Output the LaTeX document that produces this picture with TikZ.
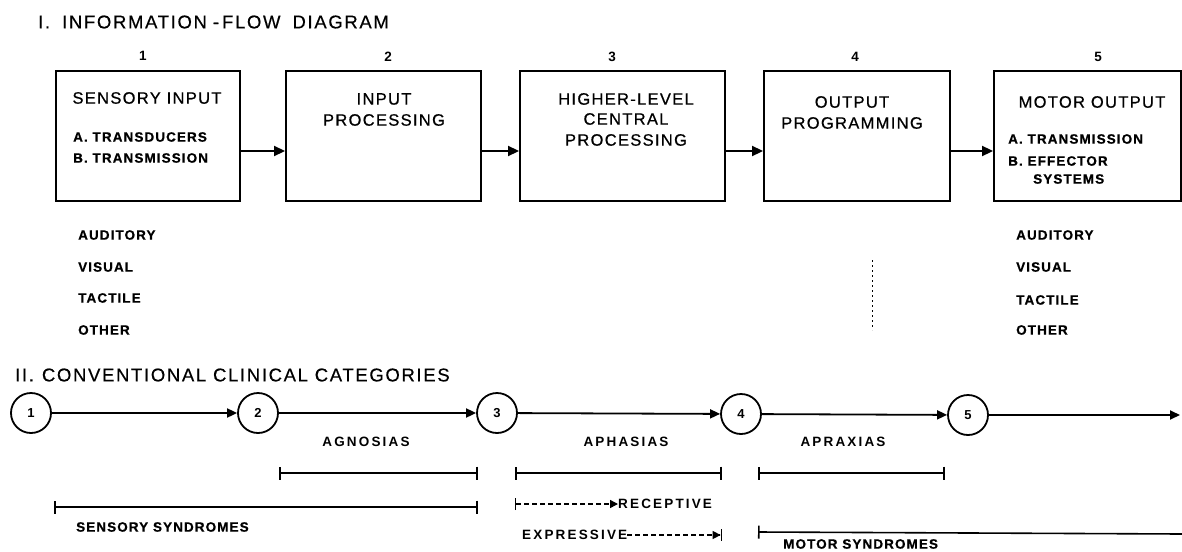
\documentclass[tikz,border=0pt]{standalone}
\usepackage{fontspec}
\setmainfont{Liberation Sans}
\newfontfamily\lt[LetterSpace=8,FakeBold=0.6]{Liberation Sans}
\newfontfamily\ltw[LetterSpace=16]{Liberation Sans}
\newfontfamily\ttl[LetterSpace=9,FakeBold=0.4]{Liberation Sans}
\usetikzlibrary{arrows.meta}
\begin{document}
\begin{tikzpicture}[x=1pt,y=-1pt,
  box/.style={draw, line width=1.8pt, anchor=north west, inner sep=0pt},
  big/.style={font=\lt\fontsize{16.5}{19}\selectfont, align=center, inner sep=0pt},
  small/.style={font=\lt\bfseries\fontsize{13.5}{16}\selectfont, anchor=west, inner sep=0pt},
  wide/.style={font=\ltw\bfseries\fontsize{13.5}{16}\selectfont, inner sep=0pt},
  num/.style={font=\bfseries\fontsize{13.5}{16}\selectfont, inner sep=0pt},
  title/.style={font=\ttl\fontsize{18.5}{21}\selectfont, anchor=west, inner sep=0pt},
  circ/.style={draw, circle, line width=1.8pt, minimum size=40pt, inner sep=0pt, font=\bfseries\fontsize{13}{15}\selectfont},
  flow/.style={line width=2.2pt, -{Triangle[length=11pt,width=10pt]}},
  cflow/.style={line width=1.8pt, -{Triangle[length=10pt,width=9pt]}},
  bar/.style={line width=1.6pt, {Bar[width=13pt]}-{Bar[width=13pt]}},
  dsh/.style={line width=1.4pt, dash pattern=on 5pt off 3pt}
]
\useasboundingbox (0,0) rectangle (1182,551);
\fill[white] (0,0) rectangle (1182,551);
\clip (0,0) rectangle (1182,551);

% Section I title
\node[title] (t1) at (38,22) {I.\hspace{12pt}INFORMATION\hspace{6pt}-\hspace{3pt}FLOW\hspace{12pt}DIAGRAM};

% numbers
\node[num] (n1) at (143,56) {1};
\node[num] (n2) at (388,57) {2};
\node[num] (n3) at (612,57) {3};
\node[num] (n4) at (855,57) {4};
\node[num] (n5) at (1098,57) {5};

% boxes
\node[box, minimum width=184pt, minimum height=130pt] (b1) at (55,70) {};
\node[box, minimum width=195pt, minimum height=130pt] (b2) at (285,70) {};
\node[box, minimum width=205pt, minimum height=130pt] (b3) at (519,70) {};
\node[box, minimum width=186pt, minimum height=130pt] (b4) at (763,70) {};
\node[box, minimum width=187pt, minimum height=130pt] (b5) at (993,70) {};

% box texts
\node[big] (s1) at (147,98) {SENSORY INPUT};
\node[small] (s1a) at (73,137) {A. TRANSDUCERS};
\node[small] (s1b) at (73,158) {B. TRANSMISSION};
\node[big] (s2a) at (384,99) {INPUT};
\node[big] (s2b) at (384,120) {PROCESSING};
\node[big] (s3a) at (626,99) {HIGHER-LEVEL};
\node[big] (s3b) at (626,119) {CENTRAL};
\node[big] (s3c) at (626,140) {PROCESSING};
\node[big] (s4a) at (852,102) {OUTPUT};
\node[big] (s4b) at (852,123) {PROGRAMMING};
\node[big] (s5) at (1092,102) {MOTOR OUTPUT};
\node[small] (s5a) at (1008,139) {A. TRANSMISSION};
\node[small] (s5b) at (1008,161) {B. EFFECTOR};
\node[small] (s5c) at (1033,179) {SYSTEMS};

% top arrows
\coordinate (ay) at (0,151);
\draw[flow] (b1.east |- ay) -- (b2.west |- ay);
\draw[flow] (b2.east |- ay) -- (b3.west |- ay);
\draw[flow] (b3.east |- ay) -- (b4.west |- ay);
\draw[flow] (b4.east |- ay) -- (b5.west |- ay);

% modality lists
\node[small] (l1) at (78,235) {AUDITORY};
\node[small] (l2) at (78,267) {VISUAL};
\node[small] (l3) at (78,298) {TACTILE};
\node[small] (l4) at (78,330) {OTHER};
\node[small] (r1) at (1016,235) {AUDITORY};
\node[small] (r2) at (1016,267) {VISUAL};
\node[small] (r3) at (1016,300) {TACTILE};
\node[small] (r4) at (1016,330) {OTHER};

% faint dotted mark
\draw[line width=0.6pt, dash pattern=on 2pt off 3pt] (872,260) -- (872,330);

% Section II title
\node[title] (t2) at (15,375) {II.\hspace{8pt}CONVENTIONAL CLINICAL CATEGORIES};

% circles
\node[circ] (c1) at (31,413) {1};
\node[circ] (c2) at (258,413) {2};
\node[circ] (c3) at (497,413) {3};
\node[circ] (c4) at (741,414) {4};
\node[circ] (c5) at (968,415) {5};
\coordinate (cend) at (1180,415);
\draw[cflow] (c1) -- (c2);
\draw[cflow] (c2) -- (c3);
\draw[cflow] (c3) -- (c4);
\draw[cflow] (c4) -- (c5);
\draw[cflow] (c5) -- (cend);

% category labels
\node[wide] (ag) at (366,442) {AGNOSIAS};
\node[wide] (ap) at (626,442) {APHASIAS};
\node[wide] (ax) at (843,442) {APRAXIAS};

% bars
\coordinate (ag1) at (279,473); \coordinate (ag2) at (478,473);
\coordinate (ap1) at (515,473); \coordinate (ap2) at (722,473);
\coordinate (ax1) at (758,473); \coordinate (ax2) at (945,473);
\draw[bar] (ag1) -- (ag2);
\draw[bar] (ap1) -- (ap2);
\draw[bar] (ax1) -- (ax2);

\coordinate (ss1) at (54,507); \coordinate (ss2) at (478,507);
\draw[bar] (ss1) -- (ss2);
\node[small] (ssl) at (76,527) {SENSORY SYNDROMES};

% receptive / expressive
\node[wide, anchor=west] (rec) at (618,504) {RECEPTIVE};
\coordinate (rc1) at (515,504);
\draw[dsh, {Bar[width=12pt]}-{Triangle[length=8pt,width=8pt]}] (rc1) -- (rec.west);
\node[wide, anchor=west] (exp) at (522,535) {EXPRESSIVE};
\coordinate (ex2) at (722,535);
\draw[dsh, -{Triangle[length=8pt,width=8pt] Bar[width=12pt]}] (exp.east) -- (ex2);

% motor syndromes
\coordinate (ms1) at (758,532); \coordinate (ms2) at (1182,534);
\draw[line width=1.6pt, {Bar[width=13pt]}-] (ms1) -- (ms2);
\node[small] (msl) at (783,544) {MOTOR SYNDROMES};
\end{tikzpicture}
\end{document}
